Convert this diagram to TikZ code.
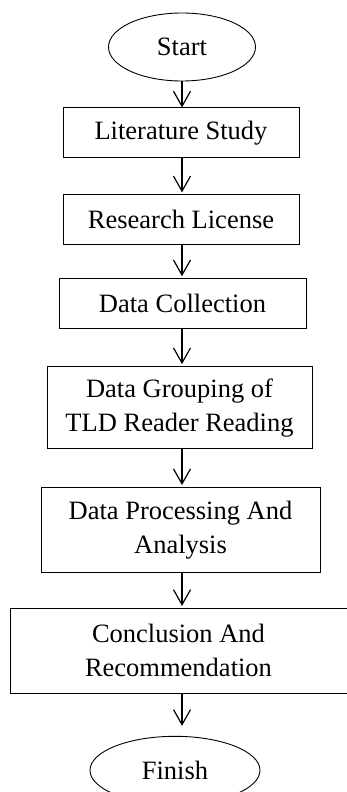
\documentclass[tikz,border=0pt]{standalone}
\usepackage{fontspec}
\setmainfont{Liberation Serif}
\usetikzlibrary{shapes.geometric,arrows.meta,positioning}
\tikzstyle{startstop} = [ellipse, minimum height=68pt, inner sep=0pt, text centered, draw=black, line width=0.9pt]
\tikzstyle{process} = [rectangle, minimum height=50pt, align=center, draw=black, line width=0.9pt]
\tikzstyle{arrow} = [line width=1.2pt, shorten >=2pt, -{Straight Barb[length=15pt,width=17pt]}]

\begin{document}
\begin{tikzpicture}[font=\fontsize{26.5}{34}\selectfont]
	\useasboundingbox (0,0) rectangle (346pt,-792pt);
	\node (start) [startstop, minimum width=147pt] at (182pt,-47pt) {Start};
	\node (lit) [process, minimum width=236pt, below=26pt of start, xshift=-1pt] {Literature Study};
	\node (lic) [process, minimum width=236pt, below=36pt of lit] {Research License};
	\node (coll) [process, minimum width=247pt, below=33pt of lic, xshift=1.5pt] {Data Collection};
	\node (group) [process, minimum width=265pt, minimum height=82pt, below=37pt of coll, xshift=-3pt] {Data Grouping of\\TLD Reader Reading};
	\node (proc) [process, minimum width=279pt, minimum height=85pt, below=38pt of group, xshift=1pt] {Data Processing And\\Analysis};
	\node (concl) [process, minimum width=337pt, minimum height=85pt, below=35pt of proc, xshift=-2pt] {Conclusion And\\Recommendation};
	\node (finish) [startstop, minimum width=170pt, below=42pt of concl, xshift=-3.5pt] {Finish};

	\draw [arrow, shorten >=0pt] (start.south) -- (lit.north -| start);
	\draw [arrow] (lit.south -| start) -- (lic.north -| start);
	\draw [arrow] (lic.south -| start) -- (coll.north -| start);
	\draw [arrow] (coll.south -| start) -- (group.north -| start);
	\draw [arrow] (group.south -| start) -- (proc.north -| start);
	\draw [arrow] (proc.south -| start) -- (concl.north -| start);
	\draw [arrow, shorten >=10pt] (concl.south -| start) -- (finish.north -| start);
\end{tikzpicture}
\end{document}
